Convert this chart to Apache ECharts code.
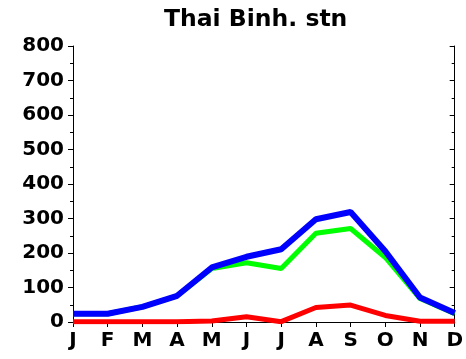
<!DOCTYPE html>
<html>
<head>
<meta charset="utf-8">
<script src="https://cdn.jsdelivr.net/npm/echarts@6/dist/echarts.min.js"></script>
<style>
  html, body { margin: 0; padding: 0; background: #fff; }
  #chart { width: 466px; height: 359px; }
</style>
</head>
<body>
<div id="chart"></div>
<script>
// Monthly rainfall at Thai Binh station (mm)
const months = ['J', 'F', 'M', 'A', 'M', 'J', 'J', 'A', 'S', 'O', 'N', 'D'];
const yTicks = [0, 100, 200, 300, 400, 500, 600, 700, 800];
const greenSeries = [24, 24, 44, 76, 155, 172, 155, 257, 271, 187, 68, 24];
const blueSeries  = [24, 24, 44, 76, 158, 189, 211, 298, 319, 205, 71, 26];
const redSeries   = [1, 1, 1, 1, 3, 15, 1, 42, 49, 19, 2, 2];

const FONT = '"DejaVu Sans", sans-serif';
const chart = echarts.init(document.getElementById('chart'), null, { renderer: 'canvas' });

const labelStyle = { color: '#000', fontFamily: FONT, fontWeight: 'bold', fontSize: 20 };

chart.setOption({
  animation: false,
  backgroundColor: '#fff',
  title: {
    text: 'Thai Binh. stn',
    left: 159,
    top: 3,
    textStyle: { color: '#000', fontFamily: FONT, fontWeight: 'bold', fontSize: 23.5 }
  },
  grid: { left: 73, right: 10, top: 46, bottom: 37, containLabel: false },
  xAxis: [
    {
      type: 'category',
      data: months,
      boundaryGap: false,
      position: 'bottom',
      axisLine: { lineStyle: { color: '#000', width: 1 } },
      axisTick: { show: true, alignWithLabel: true, inside: false, length: 5, lineStyle: { color: '#000' } },
      axisLabel: Object.assign({ margin: 9, interval: 0 }, labelStyle),
      splitLine: { show: false }
    },
    {
      type: 'category',
      data: months,
      boundaryGap: false,
      position: 'top',
      axisLine: { lineStyle: { color: '#000', width: 1 } },
      axisTick: { show: true, inside: true, length: 4, lineStyle: { color: '#000' } },
      axisLabel: { show: false },
      splitLine: { show: false }
    }
  ],
  yAxis: [
    {
      type: 'value',
      min: 0,
      max: 800,
      interval: 100,
      position: 'left',
      axisLine: { show: true, lineStyle: { color: '#000', width: 1 } },
      axisTick: { show: true, inside: false, length: 5, lineStyle: { color: '#000' } },
      minorTick: { show: true, splitNumber: 2, length: 3, lineStyle: { color: '#000' } },
      axisLabel: Object.assign({ margin: 9, formatter: v => (yTicks.includes(v) ? String(v) : '') }, labelStyle),
      splitLine: { show: false }
    },
    {
      type: 'value',
      min: 0,
      max: 800,
      interval: 100,
      position: 'right',
      axisLine: { show: true, lineStyle: { color: '#000', width: 1 } },
      axisTick: { show: true, inside: true, length: 5, lineStyle: { color: '#000' } },
      minorTick: { show: true, splitNumber: 2, length: 3, lineStyle: { color: '#000' } },
      axisLabel: { show: false },
      splitLine: { show: false }
    }
  ],
  series: [
    {
      name: 'green',
      type: 'line',
      data: greenSeries,
      symbol: 'none',
      lineStyle: { color: '#00ff00', width: 5 },
      z: 2
    },
    {
      name: 'blue',
      type: 'line',
      data: blueSeries,
      symbol: 'none',
      lineStyle: { color: '#0000ff', width: 6 },
      z: 3
    },
    {
      name: 'red',
      type: 'line',
      data: redSeries,
      symbol: 'none',
      lineStyle: { color: '#ff0000', width: 5 },
      z: 4
    }
  ]
});
</script>
</body>
</html>
